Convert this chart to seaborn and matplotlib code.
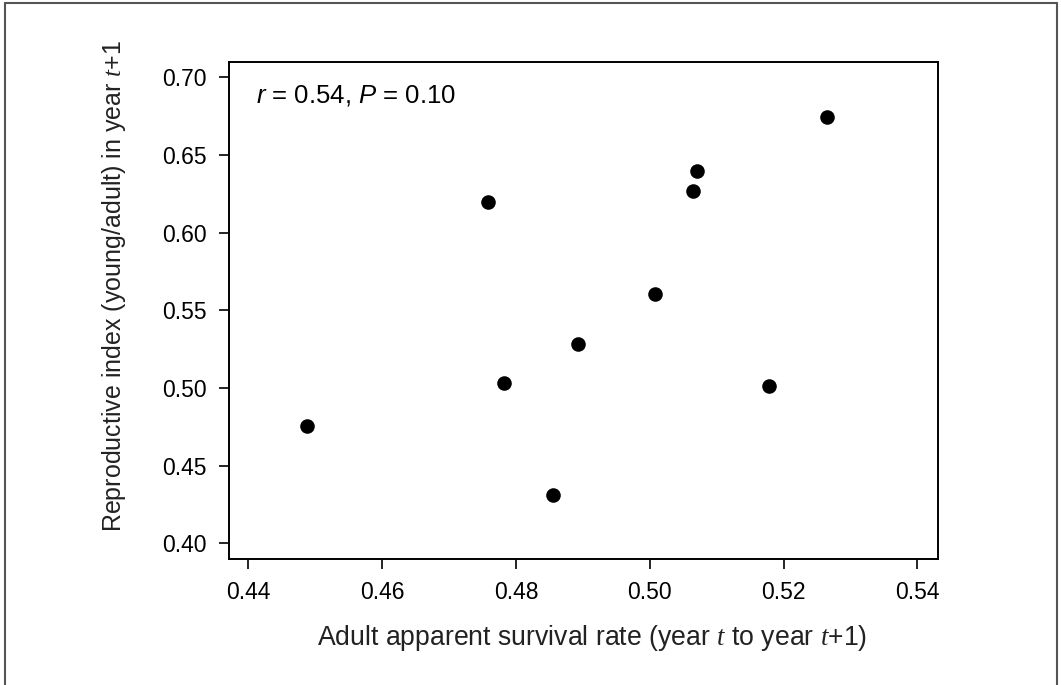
import seaborn as sb
import pandas as pd
import matplotlib.pyplot as plt
from matplotlib.lines import Line2D

# adult apparent survival (year t -> t+1) and reproductive index in year t+1
survival = [0.4487, 0.4758, 0.4782, 0.4856, 0.4893, 0.5008, 0.5065, 0.5071, 0.5179, 0.5265]
repro = [0.4755, 0.6195, 0.5034, 0.4311, 0.5283, 0.5607, 0.6270, 0.6397, 0.5015, 0.6746]
xticks = [0.44, 0.46, 0.48, 0.50, 0.52, 0.54]
yticks = [0.40, 0.45, 0.50, 0.55, 0.60, 0.65, 0.70]

df = pd.DataFrame({"survival": survival, "repro": repro})

sb.set_style("ticks")
plt.rcParams['font.family'] = ['Liberation Sans', 'DejaVu Sans']
plt.rcParams['mathtext.fontset'] = 'custom'
plt.rcParams['mathtext.rm'] = 'Liberation Sans'
plt.rcParams['mathtext.it'] = 'Liberation Serif:italic'
plt.rcParams['mathtext.sf'] = 'Liberation Sans:italic'

fig = plt.figure(figsize=(10.61, 6.85), dpi=100)
ax = fig.add_axes([0.2158, 0.1844, 0.6683, 0.7251])

sb.scatterplot(data=df, x="survival", y="repro", ax=ax, color="black",
               s=110, edgecolor="black", linewidth=0, zorder=3)

ax.set_xlim(0.4371, 0.5431)
ax.set_ylim(0.3901, 0.7098)
ax.set_xticks(xticks)
ax.set_xticklabels([f"{v:.2f}" for v in xticks])
ax.set_yticks(yticks)
ax.set_yticklabels([f"{v:.2f}" for v in yticks])
ax.tick_params(axis='both', direction='out', length=7, width=1.2,
               labelsize=16.5, color='black', labelcolor='black', pad=9)
for s in ax.spines.values():
    s.set_visible(True)
    s.set_linewidth(1.4)
    s.set_color('black')

ax.set_xlabel("Adult apparent survival rate (year $t$ to year $t$+1)",
              fontsize=19.2, color='#222222')
ax.set_ylabel("Reproductive index (young/adult) in year $t$+1",
              fontsize=18, color='#222222')
ax.xaxis.set_label_coords(0.512, -0.13)
ax.yaxis.set_label_coords(-0.142, 0.548)

ax.text(0.038, 0.958, r"$\mathsf{r}$ = 0.54, $\mathsf{P}$ = 0.10", transform=ax.transAxes,
        fontsize=18.5, va='top', ha='left', color='black')

# outer frame of the figure
frame = dict(color='#555555', linewidth=1.5, transform=fig.transFigure)
fig.add_artist(Line2D([0.0047, 0.0047], [0.0, 0.9956], **frame))
fig.add_artist(Line2D([0.9962, 0.9962], [0.0, 0.9956], **frame))
fig.add_artist(Line2D([0.0047, 0.9962], [0.9956, 0.9956], **frame))

plt.savefig('out.png', dpi=100)
